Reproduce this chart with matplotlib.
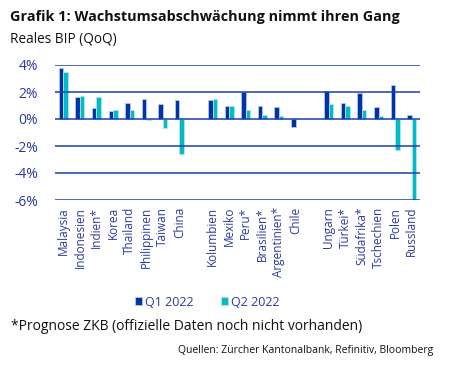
import matplotlib
matplotlib.use("Agg")
import matplotlib.pyplot as plt
import numpy as np

countries = ["Malaysia", "Indonesien", "Indien*", "Korea", "Thailand", "Philippinen", "Taiwan", "China",
             "Kolumbien", "Mexiko", "Peru*", "Brasilien*", "Argentinien*", "Chile",
             "Ungarn", "Türkei*", "Südafrika*", "Tschechien", "Polen", "Russland"]
q1 = [3.8, 1.6, 0.8, 0.6, 1.2, 1.5, 1.1, 1.4,
      1.4, 1.0, 2.0, 1.0, 0.9, -0.6,
      2.1, 1.2, 1.9, 0.9, 2.5, 0.3]
q2 = [3.5, 1.7, 1.6, 0.7, 0.7, -0.1, -0.7, -2.6,
      1.5, 1.0, 0.7, 0.3, 0.2, 0.0,
      1.1, 1.0, 0.7, 0.2, -2.3, -6.0]
group_sizes = [8, 6, 6]
yticks = [4, 2, 0, -2, -4, -6]

C1 = "#0033A8"
C2 = "#00BCC8"
GRID = "#1a3fa8"
TXT = "#2b3a9e"

plt.rcParams['font.family'] = ['Open Sans', 'DejaVu Sans']

fig = plt.figure(figsize=(4.69, 3.73), dpi=100)
ax = fig.add_axes([55/469, 1-200/373, 365/469, 135/373])

pos = []
start = 0
for g in group_sizes:
    pos.extend(range(start, start + g))
    start += g + 1
pos = np.array(pos, dtype=float)

w = 0.27
ax.bar(pos - w/2, q1, width=w, color=C1, edgecolor="#b8c6ea", linewidth=0.6, zorder=2, label="Q1 2022")
ax.bar(pos + w/2, q2, width=w, color=C2, edgecolor="#b8e4ea", linewidth=0.6, zorder=2, label="Q2 2022")

ax.set_ylim(-6, 4)
ax.set_xlim(-0.5, pos[-1] + 0.5)
ax.set_yticks(yticks)
ax.set_yticklabels([f"{t}%" for t in yticks], color=TXT, fontsize=10)
for t in yticks:
    ax.axhline(t, color=GRID, lw=1.1, zorder=3)
ax.set_xticks(pos)
ax.set_xticklabels(countries, rotation=90, color=TXT, fontsize=8.5)
ax.tick_params(axis='both', length=0)
ax.tick_params(axis='x', pad=5)
ax.tick_params(axis='y', pad=12)
for s in ax.spines.values():
    s.set_visible(False)

leg = fig.legend(loc='center', bbox_to_anchor=(207/469, 1-302/373), ncol=2, frameon=False,
                 fontsize=9, handlelength=0.6, handleheight=0.6, handletextpad=0.2, columnspacing=2.2)
for t in leg.get_texts():
    t.set_color(TXT)

fig.text(10/469, 1-17/373, "Grafik 1: Wachstumsabschwächung nimmt ihren Gang", fontsize=10.4, fontweight='bold',
         va='center', ha='left', color='#111111')
fig.text(10/469, 1-40/373, "Reales BIP (QoQ)", fontsize=9.8, va='center', ha='left', color='#111111')
fig.text(11/469, 1-327/373, "*Prognose ZKB (offizielle Daten noch nicht vorhanden)", fontsize=10,
         va='center', ha='left', color='#111111')
fig.text(433/469, 1-351/373, "Quellen: Zürcher Kantonalbank, Refinitiv, Bloomberg", fontsize=7.5,
         va='center', ha='right', color='#111111')

fig.savefig("out.png", dpi=100)
